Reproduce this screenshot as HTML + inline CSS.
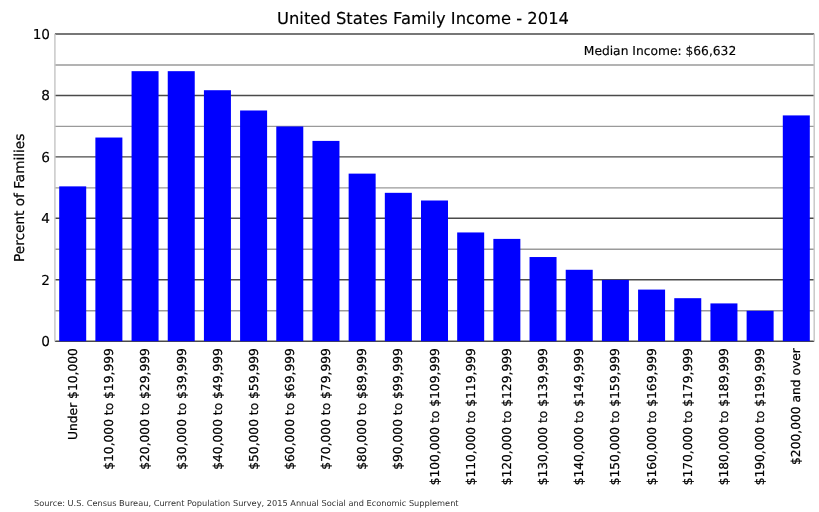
<!DOCTYPE html><html><head><meta charset="utf-8"><style>html,body{margin:0;padding:0;background:#fff}svg{display:block;will-change:transform}text{font-family:"DejaVu Sans","Liberation Sans",sans-serif;text-rendering:geometricPrecision;stroke:#000;stroke-width:0.15px}.r{stroke-width:0.22px}</style></head><body>
<svg width="819" height="512" viewBox="0 0 819 512">
<rect width="819" height="512" fill="#fff"/>
<line x1="54.9" x2="814.2" y1="310.73" y2="310.73" stroke="#9a9a9a" stroke-width="1.35"/>
<line x1="54.9" x2="814.2" y1="249.29" y2="249.29" stroke="#9a9a9a" stroke-width="1.35"/>
<line x1="54.9" x2="814.2" y1="187.85" y2="187.85" stroke="#9a9a9a" stroke-width="1.35"/>
<line x1="54.9" x2="814.2" y1="126.41" y2="126.41" stroke="#9a9a9a" stroke-width="1.35"/>
<line x1="54.9" x2="814.2" y1="64.97" y2="64.97" stroke="#9a9a9a" stroke-width="1.35"/>
<line x1="54.9" x2="814.2" y1="341.20" y2="341.20" stroke="#4a4a4a" stroke-width="1.4"/>
<line x1="54.9" x2="814.2" y1="279.76" y2="279.76" stroke="#4a4a4a" stroke-width="1.4"/>
<line x1="54.9" x2="814.2" y1="218.32" y2="218.32" stroke="#4a4a4a" stroke-width="1.4"/>
<line x1="54.9" x2="814.2" y1="156.88" y2="156.88" stroke="#4a4a4a" stroke-width="1.4"/>
<line x1="54.9" x2="814.2" y1="95.44" y2="95.44" stroke="#4a4a4a" stroke-width="1.4"/>
<line x1="54.9" x2="814.2" y1="34.00" y2="34.00" stroke="#4a4a4a" stroke-width="1.4"/>
<line x1="54.9" x2="54.9" y1="34.00" y2="341.2" stroke="#c8c8c8" stroke-width="1.5"/>
<line x1="814.2" x2="814.2" y1="34.00" y2="341.2" stroke="#c8c8c8" stroke-width="1.5"/>
<rect x="59.20" y="186.37" width="27.0" height="154.83" fill="#0000ff"/>
<rect x="95.38" y="137.53" width="27.0" height="203.67" fill="#0000ff"/>
<rect x="131.56" y="71.17" width="27.0" height="270.03" fill="#0000ff"/>
<rect x="167.74" y="71.17" width="27.0" height="270.03" fill="#0000ff"/>
<rect x="203.92" y="90.22" width="27.0" height="250.98" fill="#0000ff"/>
<rect x="240.10" y="110.49" width="27.0" height="230.71" fill="#0000ff"/>
<rect x="276.28" y="126.47" width="27.0" height="214.73" fill="#0000ff"/>
<rect x="312.46" y="140.91" width="27.0" height="200.29" fill="#0000ff"/>
<rect x="348.64" y="173.62" width="27.0" height="167.58" fill="#0000ff"/>
<rect x="384.82" y="192.82" width="27.0" height="148.38" fill="#0000ff"/>
<rect x="421.00" y="200.50" width="27.0" height="140.70" fill="#0000ff"/>
<rect x="457.18" y="232.45" width="27.0" height="108.75" fill="#0000ff"/>
<rect x="493.36" y="238.90" width="27.0" height="102.30" fill="#0000ff"/>
<rect x="529.54" y="257.03" width="27.0" height="84.17" fill="#0000ff"/>
<rect x="565.72" y="269.78" width="27.0" height="71.42" fill="#0000ff"/>
<rect x="601.90" y="279.91" width="27.0" height="61.29" fill="#0000ff"/>
<rect x="638.08" y="289.59" width="27.0" height="51.61" fill="#0000ff"/>
<rect x="674.26" y="298.19" width="27.0" height="43.01" fill="#0000ff"/>
<rect x="710.44" y="303.41" width="27.0" height="37.79" fill="#0000ff"/>
<rect x="746.62" y="310.79" width="27.0" height="30.41" fill="#0000ff"/>
<rect x="782.80" y="115.41" width="27.0" height="225.79" fill="#0000ff"/>
<text x="50" y="346.10" font-size="13.65" text-anchor="end">0</text>
<text x="50" y="284.66" font-size="13.65" text-anchor="end">2</text>
<text x="50" y="223.22" font-size="13.65" text-anchor="end">4</text>
<text x="50" y="161.78" font-size="13.65" text-anchor="end">6</text>
<text x="50" y="100.34" font-size="13.65" text-anchor="end">8</text>
<text x="50" y="38.90" font-size="13.65" text-anchor="end">10</text>
<text class="r" transform="translate(77.10,348.2) rotate(-90)" font-size="12.285" text-anchor="end">Under $10,000</text>
<text class="r" transform="translate(113.25,348.2) rotate(-90)" font-size="12.285" text-anchor="end">$10,000 to $19,999</text>
<text class="r" transform="translate(149.40,348.2) rotate(-90)" font-size="12.285" text-anchor="end">$20,000 to $29,999</text>
<text class="r" transform="translate(185.55,348.2) rotate(-90)" font-size="12.285" text-anchor="end">$30,000 to $39,999</text>
<text class="r" transform="translate(221.70,348.2) rotate(-90)" font-size="12.285" text-anchor="end">$40,000 to $49,999</text>
<text class="r" transform="translate(257.85,348.2) rotate(-90)" font-size="12.285" text-anchor="end">$50,000 to $59,999</text>
<text class="r" transform="translate(294.00,348.2) rotate(-90)" font-size="12.285" text-anchor="end">$60,000 to $69,999</text>
<text class="r" transform="translate(330.15,348.2) rotate(-90)" font-size="12.285" text-anchor="end">$70,000 to $79,999</text>
<text class="r" transform="translate(366.30,348.2) rotate(-90)" font-size="12.285" text-anchor="end">$80,000 to $89,999</text>
<text class="r" transform="translate(402.45,348.2) rotate(-90)" font-size="12.285" text-anchor="end">$90,000 to $99,999</text>
<text class="r" transform="translate(438.60,348.2) rotate(-90)" font-size="12.285" text-anchor="end">$100,000 to $109,999</text>
<text class="r" transform="translate(474.75,348.2) rotate(-90)" font-size="12.285" text-anchor="end">$110,000 to $119,999</text>
<text class="r" transform="translate(510.90,348.2) rotate(-90)" font-size="12.285" text-anchor="end">$120,000 to $129,999</text>
<text class="r" transform="translate(547.05,348.2) rotate(-90)" font-size="12.285" text-anchor="end">$130,000 to $139,999</text>
<text class="r" transform="translate(583.20,348.2) rotate(-90)" font-size="12.285" text-anchor="end">$140,000 to $149,999</text>
<text class="r" transform="translate(619.35,348.2) rotate(-90)" font-size="12.285" text-anchor="end">$150,000 to $159,999</text>
<text class="r" transform="translate(655.50,348.2) rotate(-90)" font-size="12.285" text-anchor="end">$160,000 to $169,999</text>
<text class="r" transform="translate(691.65,348.2) rotate(-90)" font-size="12.285" text-anchor="end">$170,000 to $179,999</text>
<text class="r" transform="translate(727.80,348.2) rotate(-90)" font-size="12.285" text-anchor="end">$180,000 to $189,999</text>
<text class="r" transform="translate(763.95,348.2) rotate(-90)" font-size="12.285" text-anchor="end">$190,000 to $199,999</text>
<text class="r" transform="translate(800.10,348.2) rotate(-90)" font-size="12.285" text-anchor="end">$200,000 and over</text>
<text x="423" y="23.7" font-size="16.38" text-anchor="middle">United States Family Income - 2014</text>
<text x="583.8" y="54.8" font-size="12.285">Median Income: $66,632</text>
<text class="r" transform="translate(23.9,197.8) rotate(-90)" font-size="13.65" text-anchor="middle">Percent of Families</text>
<text x="34" y="505.6" font-size="8.22" fill="#333" style="stroke:none">Source: U.S. Census Bureau, Current Population Survey, 2015 Annual Social and Economic Supplement</text>
</svg></body></html>
